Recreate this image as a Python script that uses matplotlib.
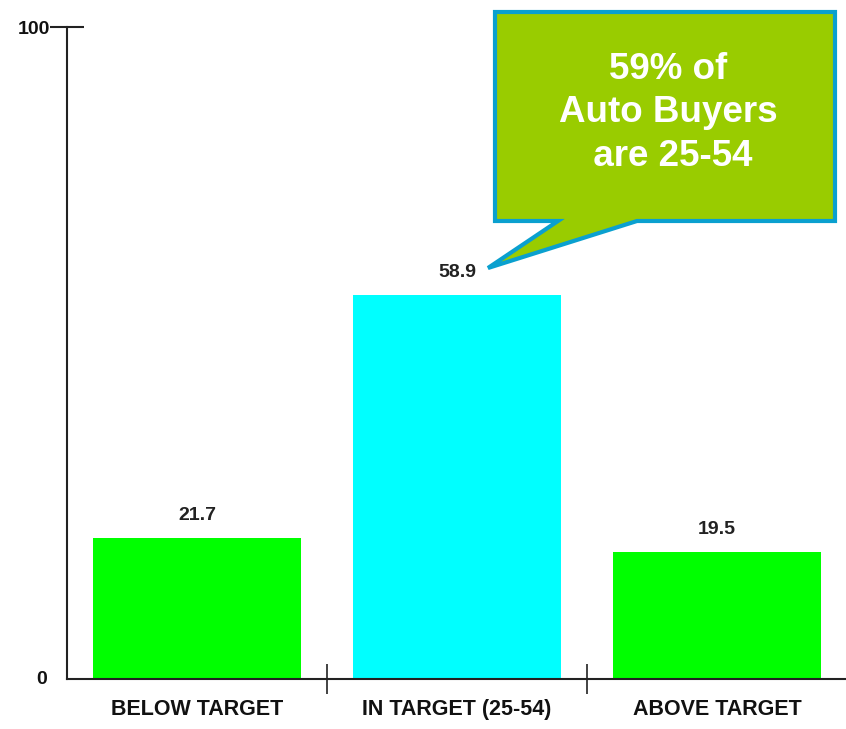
import matplotlib
matplotlib.use("Agg")
import matplotlib.pyplot as plt
from matplotlib.patches import Polygon

categories = ["BELOW TARGET", "IN TARGET (25-54)", "ABOVE TARGET"]
values = [21.7, 58.9, 19.5]
colors = ["#00ff00", "#00ffff", "#00ff00"]
value_labels = ["21.7", "58.9", "19.5"]
callout_text = "59% of\nAuto Buyers\n are 25-54"

W, H = 846, 729
fig = plt.figure(figsize=(W / 100, H / 100), dpi=100)
ax = fig.add_axes([67 / W, (H - 679) / H, (847 - 67) / W, (679 - 27) / H])

x = list(range(len(categories)))
ax.bar(x, values, width=0.8, color=colors, edgecolor="none")
ax.set_xlim(-0.5, 2.5)
ax.set_ylim(0, 100)

for xi, v, lab in zip(x, values, value_labels):
    ax.annotate(lab, (xi, v), xytext=(0, 10), textcoords="offset points",
                ha="center", va="bottom", fontsize=14, fontweight="bold",
                family="Liberation Sans", color="#222222")

for s in ["top", "right"]:
    ax.spines[s].set_visible(False)
for s in ["left", "bottom"]:
    ax.spines[s].set_linewidth(1.5)
    ax.spines[s].set_color("#222222")

# category labels at centers, tick marks at boundaries
ax.set_xticks([0.5, 1.5, 2.5])
ax.set_xticklabels([])
ax.tick_params(axis="x", direction="inout", length=22, width=1.2, color="#222222")
for xi, c in zip(x, categories):
    ax.text(xi, -4.7, c, ha="center", va="center", fontsize=15.5, fontweight="bold",
            family="Liberation Sans", color="#111111", transform=ax.transData)

ax.set_yticks([100])
ax.set_yticklabels(["100"], fontsize=14, fontweight="bold", family="Liberation Sans",
                   color="#111111")
ax.tick_params(axis="y", direction="inout", length=24, width=1.5, color="#222222", pad=0.5)
ax.text(-0.026, 0, "0", ha="right", va="center", fontsize=14, fontweight="bold",
        family="Liberation Sans", color="#111111", transform=ax.get_yaxis_transform())

# callout box
pts_px = [(495, 12), (835, 12), (835, 221), (637, 221), (488, 268), (558, 221), (495, 221)]
pts = [(px / W, 1 - py / H) for px, py in pts_px]
poly = Polygon(pts, closed=True, transform=fig.transFigure, facecolor="#99cc00",
               edgecolor="#0aa0cf", linewidth=3, joinstyle="miter", zorder=5)
fig.patches.append(poly)
fig.text(668 / W, 1 - 113 / H, callout_text, ha="center", va="center", color="white",
         fontsize=26.5, fontweight="bold", family="Liberation Sans", linespacing=1.3, zorder=6)

fig.savefig("out.png", dpi=100)
